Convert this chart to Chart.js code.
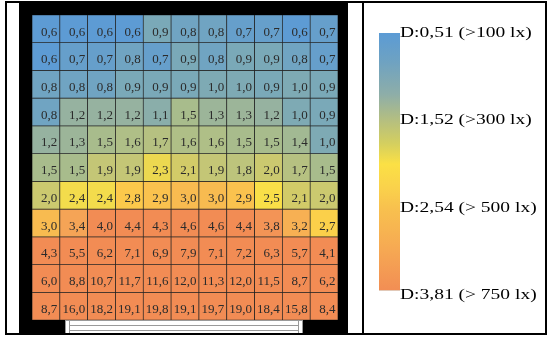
<!DOCTYPE html>
<html>
<head>
<meta charset="utf-8">
<script src="https://cdn.jsdelivr.net/npm/chart.js@4/dist/chart.umd.min.js"></script>
<style>
  html, body { margin: 0; padding: 0; background: #fff; }
  #page { position: relative; width: 548px; height: 342px; overflow: hidden; }
  .abs { position: absolute; }
  #frame { left: 5px; top: 1px; width: 538px; height: 330px; border: 2px solid #000; }
  #divider { left: 362px; top: 1px; width: 2px; height: 334px; background: #000; }
  #room { left: 19px; top: 2px; width: 329px; height: 331px; background: #000; }
  #chartBox { left: 0; top: 0; width: 548px; height: 342px; }
  #window { left: 65px; top: 320px; width: 236px; height: 12px; background: #fff; border: 1px solid #9a9a9a; border-bottom: none; }
  #window .pane { position: absolute; left: 3px; right: 3px; top: 4px; height: 4px; border-top: 1px solid #9a9a9a; border-bottom: 1px solid #9a9a9a; }
  #window .jamb { position: absolute; top: 0; bottom: 0; width: 1px; background: #9a9a9a; }
  #scaleBar { left: 379px; top: 33px; width: 21px; height: 257px;
    background: linear-gradient(to bottom,
      #5b9bd5 0%, #6ea2c2 11%, #8eaea8 24%, #b5bf80 34%, #d4cf5f 43%,
      #fbe045 51%, #fad24b 60%, #f8c14e 68%, #f6a953 84%, #f28e54 100%); }
  #scaleFoot { left: 379px; top: 290px; width: 21px; height: 1px; background: #e2c9b8; }
  .lbl { position: absolute; left: 400px; font: 15px "Liberation Serif", "Times New Roman", serif;
    line-height: 15px; color: #000; white-space: nowrap; transform: scaleX(1.3); transform-origin: 0 0; }
</style>
</head>
<body>
<div id="page">
  <div id="frame" class="abs"></div>
  <div id="divider" class="abs"></div>
  <div id="room" class="abs"></div>
  <div id="chartBox" class="abs"><canvas id="grid" width="548" height="342"></canvas></div>
  <div id="window" class="abs"><div class="jamb" style="left:3px"></div><div class="jamb" style="right:3px"></div><div class="pane"></div></div>
  <div id="scaleBar" class="abs"></div>
  <div id="scaleFoot" class="abs"></div>
  <div id="legend"></div>
</div>
<script>
// Daylight factor measured on an 11 x 11 grid (rows from the back wall to the window)
const columns = ['1', '2', '3', '4', '5', '6', '7', '8', '9', '10', '11'];
const row1  = [0.6, 0.6, 0.6, 0.6, 0.9, 0.8, 0.8, 0.7, 0.7, 0.6, 0.7];
const row2  = [0.6, 0.7, 0.7, 0.8, 0.7, 0.9, 0.8, 0.9, 0.9, 0.8, 0.7];
const row3  = [0.8, 0.8, 0.8, 0.9, 0.9, 0.9, 1.0, 1.0, 0.9, 1.0, 0.9];
const row4  = [0.8, 1.2, 1.2, 1.2, 1.1, 1.5, 1.3, 1.3, 1.2, 1.0, 0.9];
const row5  = [1.2, 1.3, 1.5, 1.6, 1.7, 1.6, 1.6, 1.5, 1.5, 1.4, 1.0];
const row6  = [1.5, 1.5, 1.9, 1.9, 2.3, 2.1, 1.9, 1.8, 2.0, 1.7, 1.5];
const row7  = [2.0, 2.4, 2.4, 2.8, 2.9, 3.0, 3.0, 2.9, 2.5, 2.1, 2.0];
const row8  = [3.0, 3.4, 4.0, 4.4, 4.3, 4.6, 4.6, 4.4, 3.8, 3.2, 2.7];
const row9  = [4.3, 5.5, 6.2, 7.1, 6.9, 7.9, 7.1, 7.2, 6.3, 5.7, 4.1];
const row10 = [6.0, 8.8, 10.7, 11.7, 11.6, 12.0, 11.3, 12.0, 11.5, 8.7, 6.2];
const row11 = [8.7, 16.0, 18.2, 19.1, 19.8, 19.1, 19.7, 19.0, 18.4, 15.8, 8.4];
const rows = [row1, row2, row3, row4, row5, row6, row7, row8, row9, row10, row11];

// Colour scale key
const legendLabels = ['D:0,51 (>100 lx)', 'D:1,52 (>300 lx)', 'D:2,54 (> 500 lx)', 'D:3,81 (> 750 lx)'];
const legendBaselines = [38, 125, 213, 300];

// Colour ramp: daylight factor -> RGB
const ramp = [
  [0.6, [93, 155, 212]], [0.7, [102, 159, 203]], [0.8, [112, 164, 194]],
  [0.9, [122, 169, 184]], [1.0, [126, 170, 180]], [1.2, [150, 178, 160]],
  [1.5, [168, 188, 140]], [1.9, [196, 198, 118]], [2.1, [210, 203, 104]],
  [2.3, [236, 216, 80]], [2.5, [249, 223, 72]], [2.8, [252, 201, 75]],
  [3.0, [248, 187, 80]], [3.4, [245, 164, 86]], [3.8, [243, 148, 86]],
  [4.0, [242, 140, 84]]
];
function colourFor(v) {
  if (v <= ramp[0][0]) return 'rgb(' + ramp[0][1].join(',') + ')';
  for (let i = 1; i < ramp.length; i++) {
    if (v <= ramp[i][0]) {
      const [v0, c0] = ramp[i - 1], [v1, c1] = ramp[i];
      const t = (v - v0) / (v1 - v0);
      return 'rgb(' + c0.map((c, k) => Math.round(c + (c1[k] - c) * t)).join(',') + ')';
    }
  }
  return 'rgb(' + ramp[ramp.length - 1][1].join(',') + ')';
}

const fmt = v => v.toFixed(1).replace('.', ',');

// One floating-bar dataset per grid row; each bar spans [row, row + 1]
const datasets = rows.map((vals, r) => ({
  label: 'row ' + (r + 1),
  data: vals.map(() => [r, r + 1]),
  values: vals,
  backgroundColor: vals.map(colourFor),
  borderColor: '#262626',
  borderWidth: 0.7,
  borderSkipped: false,
  grouped: false,
  categoryPercentage: 1,
  barPercentage: 1
}));

// Writes each cell's value, right-aligned inside its bar
const cellLabels = {
  id: 'cellLabels',
  afterDatasetsDraw(chart) {
    const ctx = chart.ctx;
    ctx.save();
    ctx.font = '13px "Liberation Serif", "Times New Roman", serif';
    ctx.fillStyle = '#2b2b2b';
    ctx.textAlign = 'right';
    ctx.textBaseline = 'alphabetic';
    chart.data.datasets.forEach((ds, di) => {
      chart.getDatasetMeta(di).data.forEach((bar, i) => {
        const right = bar.x + bar.width / 2;
        const top = Math.min(bar.y, bar.base);
        ctx.fillText(fmt(ds.values[i]), right - 2.5, top + 20.5);
      });
    });
    ctx.restore();
  }
};

new Chart(document.getElementById('grid'), {
  type: 'bar',
  data: { labels: columns, datasets },
  options: {
    responsive: false,
    animation: false,
    devicePixelRatio: 1,
    layout: { padding: { left: 32, right: 210, top: 15, bottom: 22 } },
    scales: {
      x: { display: false, offset: true },
      y: { display: false, min: 0, max: 11, reverse: true }
    },
    plugins: { legend: { display: false }, tooltip: { enabled: false } }
  },
  plugins: [cellLabels]
});

// Scale key labels
const legend = document.getElementById('legend');
legendLabels.forEach((t, i) => {
  const s = document.createElement('div');
  s.className = 'lbl';
  s.textContent = t;
  s.style.top = (legendBaselines[i] - 12.6) + 'px';
  legend.appendChild(s);
});
</script>
</body>
</html>
